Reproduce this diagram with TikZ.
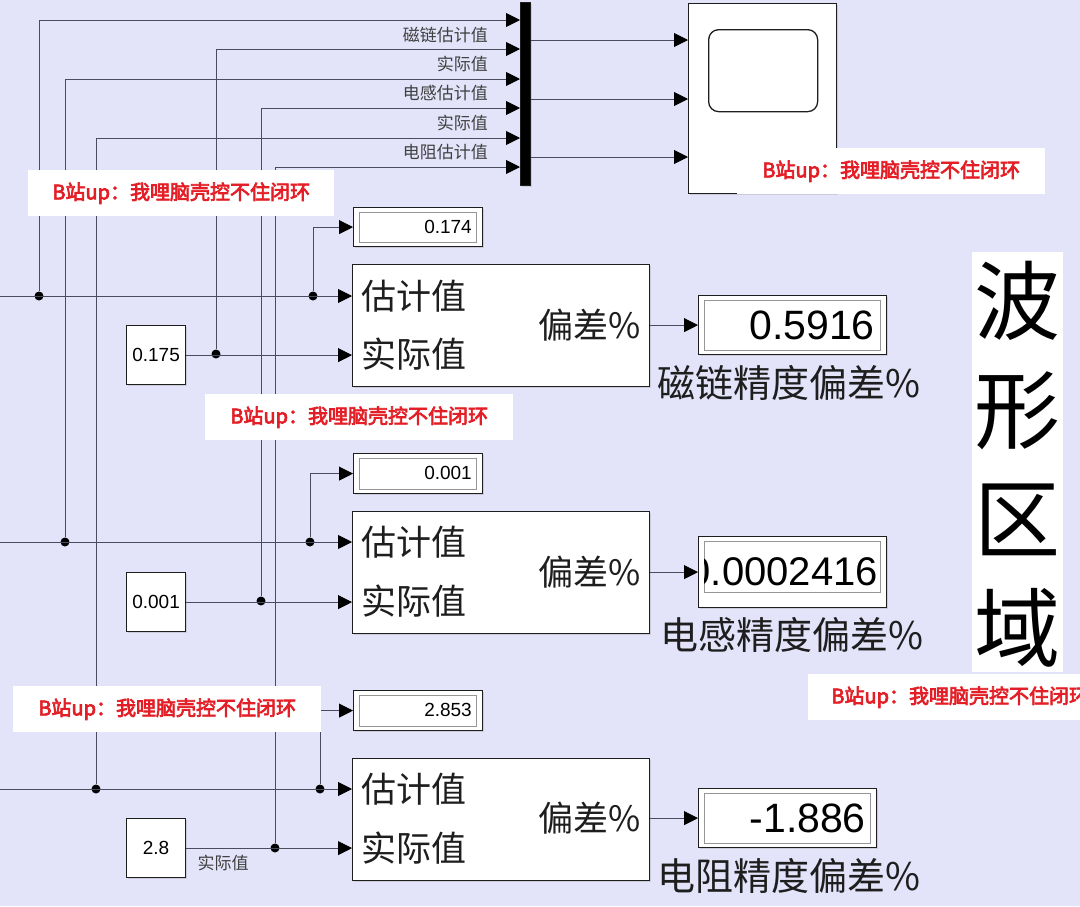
\documentclass[tikz,border=0pt]{standalone}
\usepackage{fontspec}
\setmainfont{Liberation Sans}
\newfontfamily\cjk{Noto Sans CJK SC}
\newfontfamily\cjkbold[FakeBold=3.5]{Noto Sans CJK SC}
\usetikzlibrary{arrows.meta,shadows}
\definecolor{canvas}{RGB}{227,227,250}
\definecolor{ink}{RGB}{30,30,30}
\definecolor{wirec}{RGB}{75,75,95}
\definecolor{frame}{RGB}{150,150,150}
\definecolor{wmred}{RGB}{228,30,38}
\tikzset{
  wire/.style={draw=wirec, line width=0.9pt},
  sig/.style={wire, -{Triangle[length=14pt,width=14pt,color=black]}},
  blk/.style={draw=ink, fill=white, line width=1.2pt, inner sep=0pt, anchor=north west,
    drop shadow={shadow xshift=1.5pt, shadow yshift=-1.5pt, opacity=0.25}},
  cst/.style={blk, minimum width=59, minimum height=59, font=\fontsize{19}{19}\selectfont},
  disp/.style={blk, path picture={\draw[frame, line width=0.7pt]
      ([shift={(6pt,-5pt)}]path picture bounding box.north west) rectangle
      ([shift={(-6pt,#1)}]path picture bounding box.south east);}},
  disp/.default=4pt,
  dot/.style={circle, fill=black, inner sep=0pt, minimum size=9pt},
  port/.style={font=\cjk\fontsize{35}{35}\selectfont, text=ink, inner sep=0pt},
  caption/.style={font=\cjk\fontsize{38}{38}\selectfont, text=ink, inner sep=0pt, anchor=west},
  siglbl/.style={font=\cjk\fontsize{17}{17}\selectfont, text=ink!85, inner sep=0pt},
  smallnum/.style={font=\fontsize{19}{19}\selectfont, inner sep=0pt, anchor=east},
  bignum/.style={font=\fontsize{41}{41}\selectfont, inner sep=0pt, anchor=east},
  wmark/.style={fill=white, text=wmred, font=\cjkbold\fontsize{20}{20}\selectfont,
    inner sep=0pt, anchor=north west, minimum height=46},
  bigch/.style={font=\cjk\fontsize{86}{86}\selectfont, inner sep=0pt},
}
\begin{document}
\begin{tikzpicture}[x=1pt, y=-1pt]
  \clip (0,0) rectangle (1080,906);
  \fill[canvas] (0,0) rectangle (1080,906);

  % mux and scope
  \node[blk, fill=black, minimum width=10, minimum height=183] (mux) at (520,2) {};
  \node[blk, minimum width=148, minimum height=190] (scope) at (688,3) {};
  \node[draw=ink, line width=1.3pt, rounded corners=10pt, fill=white, anchor=north west,
    minimum width=109, minimum height=82] (screen) at (708,29) {};
  \foreach \i/\y in {1/20,2/49,3/79,4/108,5/138,6/167}
    \coordinate (mi\i) at (520,\y);
  \foreach \i/\y in {1/40,2/99,3/157}
    \coordinate (si\i) at (688,\y);
  \foreach \i in {1,2,3}
    \draw[sig] (mux.east |- si\i) -- (si\i);
  \node[siglbl, anchor=east] (lab1) at (488,35) {磁链估计值};
  \node[siglbl, anchor=east] (lab2) at (488,64) {实际值};
  \node[siglbl, anchor=east] (lab3) at (488,93) {电感估计值};
  \node[siglbl, anchor=east] (lab4) at (488,123) {实际值};
  \node[siglbl, anchor=east] (lab5) at (488,152) {电阻估计值};

  % flux row
  \node[blk, minimum width=297, minimum height=122] (sub1) at (352,264) {};
  \node[port, anchor=west] (est1) at (361,296) {估计值};
  \node[port, anchor=west] (act1) at (361,354) {实际值};
  \node[port, anchor=east] (dev1) at (641,325) {偏差\%};
  \node[cst] (c1) at (126,325) {0.175};
  \node[disp, minimum width=129, minimum height=39] (sd1) at (353,207) {};
  \node[smallnum] (sv1) at (472,227) {0.174};
  \node[disp, minimum width=188, minimum height=59] (bd1) at (698,295) {};
  \node[bignum] (bv1) at (875,325) {0.5916};
  \node[caption] (cap1) at (657,383) {磁链精度偏差\%};
  \coordinate (in1) at (0,296);
  \node[dot] (ja1) at (39,296) {};
  \node[dot] (jb1) at (313,296) {};
  \node[dot] (jc1) at (216,354) {};
  \draw[sig] (in1) -- (sub1.west |- in1);
  \draw[sig] (c1.east) -- (sub1.west |- c1.east);
  \draw[sig] (jb1) |- (sd1.west);
  \draw[sig] (ja1) |- (mi1);
  \draw[sig] (jc1) |- (mi2);
  \draw[sig] (sub1.east |- bd1.west) -- (bd1.west);

  % inductance row
  \node[blk, minimum width=297, minimum height=122] (sub2) at (352,511) {};
  \node[port, anchor=west] (est2) at (361,542) {估计值};
  \node[port, anchor=west] (act2) at (361,601) {实际值};
  \node[port, anchor=east] (dev2) at (641,572) {偏差\%};
  \node[cst] (c2) at (126,572) {0.001};
  \node[disp, minimum width=129, minimum height=40] (sd2) at (353,453) {};
  \node[smallnum] (sv2) at (472,473) {0.001};
  \node[disp=15pt, minimum width=188, minimum height=71] (bd2) at (698,536) {};
  \begin{scope}
    \clip (704,541) rectangle (880,592);
    \node[bignum, font=\fontsize{40}{40}\selectfont] (bv2) at (878,572) {0.0002416};
  \end{scope}
  \node[caption] (cap2) at (660,635) {电感精度偏差\%};
  \coordinate (in2) at (0,542);
  \node[dot] (ja2) at (65,542) {};
  \node[dot] (jb2) at (310,542) {};
  \node[dot] (jc2) at (261,601) {};
  \draw[sig] (in2) -- (sub2.west |- in2);
  \draw[sig] (c2.east) -- (sub2.west |- c2.east);
  \draw[sig] (jb2) |- (sd2.west);
  \draw[sig] (ja2) |- (mi3);
  \draw[sig] (jc2) |- (mi4);
  \draw[sig] (sub2.east |- bd2.west) -- (bd2.west);

  % resistance row
  \node[blk, minimum width=297, minimum height=122] (sub3) at (352,758) {};
  \node[port, anchor=west] (est3) at (361,789) {估计值};
  \node[port, anchor=west] (act3) at (361,848) {实际值};
  \node[port, anchor=east] (dev3) at (641,818) {偏差\%};
  \node[cst] (c3) at (126,818) {2.8};
  \node[siglbl] (lab6) at (223,863) {实际值};
  \node[disp, minimum width=129, minimum height=40] (sd3) at (353,690) {};
  \node[smallnum] (sv3) at (472,710) {2.853};
  \node[disp, minimum width=178, minimum height=59] (bd3) at (698,788) {};
  \node[bignum] (bv3) at (866,818) {-1.886};
  \node[caption] (cap3) at (657,876) {电阻精度偏差\%};
  \coordinate (in3) at (0,789);
  \node[dot] (ja3) at (96,789) {};
  \node[dot] (jb3) at (320,789) {};
  \node[dot] (jc3) at (275,848) {};
  \draw[sig] (in3) -- (sub3.west |- in3);
  \draw[sig] (c3.east) -- (sub3.west |- c3.east);
  \draw[sig] (jb3) |- (sd3.west);
  \draw[sig] (ja3) |- (mi5);
  \draw[sig] (jc3) |- (mi6);
  \draw[sig] (sub3.east |- bd3.west) -- (bd3.west);

  % waveform area
  \node[fill=white, inner sep=0pt, anchor=north west, minimum width=91, minimum height=420] (wave) at (972,252) {};
  \node[bigch] (w1) at (1017,301) {波};
  \node[bigch] (w2) at (1017,411) {形};
  \node[bigch] (w3) at (1017,520) {区};
  \node[bigch] (w4) at (1017,628) {域};

  % watermarks
  \node[wmark, minimum width=306] (wm1) at (28,170) {B站up：我哩脑壳控不住闭环};
  \node[wmark, minimum width=308] (wm2) at (205,394) {B站up：我哩脑壳控不住闭环};
  \node[wmark, minimum width=308] (wm3) at (13,686) {B站up：我哩脑壳控不住闭环};
  \node[wmark, minimum width=308] (wm4) at (737,148) {B站up：我哩脑壳控不住闭环};
  \node[wmark, minimum width=304] (wm5) at (808,674) {B站up：我哩脑壳控不住闭环};
\end{tikzpicture}
\end{document}
